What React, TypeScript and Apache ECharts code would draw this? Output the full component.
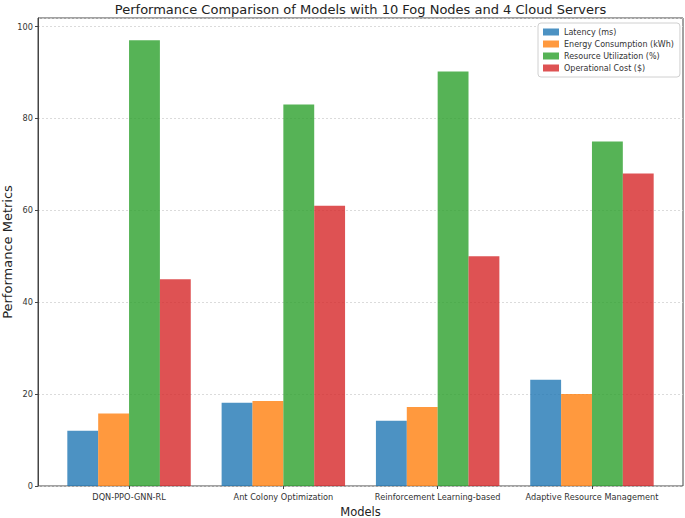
import React, { useEffect, useRef } from "react";
import * as echarts from "echarts";

const categories = [
  "DQN-PPO-GNN-RL",
  "Ant Colony Optimization",
  "Reinforcement Learning-based",
  "Adaptive Resource Management",
];
const seriesNames = [
  "Latency (ms)",
  "Energy Consumption (kWh)",
  "Resource Utilization (%)",
  "Operational Cost ($)",
];
const latency = [12, 18.1, 14.2, 23.1];
const energy = [15.8, 18.5, 17.2, 20];
const utilization = [97, 83, 90.2, 75];
const cost = [45, 61, 50, 68];
const yTicks = [0, 20, 40, 60, 80, 100];

const colors = [
  "rgba(31,119,180,0.8)",
  "rgba(255,127,14,0.8)",
  "rgba(44,160,44,0.8)",
  "rgba(214,39,40,0.8)",
];

const FONT = "DejaVu Sans";
const Y_MAX = 101.85;

export default function App() {
  const ref = useRef<HTMLDivElement>(null);
  useEffect(() => {
    if (!ref.current) return;
    const chart = echarts.init(ref.current, undefined, { renderer: "svg" });
    const all = [latency, energy, utilization, cost];
    const frameL = 38;
    const frameR = 683;
    const band = (frameR - frameL) / 4.18;
    const inset = band * 0.09;
    chart.setOption({
      animation: false,
      textStyle: { fontFamily: FONT },
      graphic: [
        {
          type: "text",
          x: (frameL + frameR) / 2,
          y: 9,
          style: {
            text: "Performance Comparison of Models with 10 Fog Nodes and 4 Cloud Servers",
            textAlign: "center",
            textVerticalAlign: "middle",
            font: `13px '${FONT}'`,
            fill: "#222",
          },
        },
      ],
      grid: [
        {
          left: frameL,
          right: 685 - frameR,
          top: 18,
          bottom: 32,
          show: true,
          borderColor: "#444",
          borderWidth: 1,
          backgroundColor: "transparent",
          containLabel: false,
          outerBoundsMode: "none",
        },
        {
          left: frameL + inset,
          right: 685 - frameR + inset,
          top: 18,
          bottom: 32,
          containLabel: false,
          outerBoundsMode: "none",
        },
      ],
      legend: {
        orient: "vertical",
        left: 538,
        top: 23,
        padding: [5, 6, 5, 5],
        itemWidth: 16,
        itemHeight: 7,
        itemGap: 4,
        icon: "rect",
        backgroundColor: "#fff",
        borderColor: "#d0d0d0",
        borderWidth: 1,
        borderRadius: 3,
        textStyle: { fontFamily: FONT, fontSize: 8, color: "#333" },
        data: seriesNames,
      },
      xAxis: [
        {
          type: "value",
          gridIndex: 0,
          show: false,
          min: 0,
          max: 1,
        },
        {
          type: "category",
          gridIndex: 1,
          data: categories,
          name: "Models",
          nameLocation: "middle",
          nameGap: 19,
          nameTextStyle: { fontFamily: FONT, fontSize: 11.5, color: "#222" },
          axisLine: { show: false },
          axisTick: { show: true, length: 3, alignWithLabel: true, lineStyle: { color: "#444" } },
          axisLabel: {
            interval: 0,
            fontFamily: FONT,
            fontSize: 8.2,
            color: "#333",
            margin: 7,
          },
          splitLine: { show: false },
        },
      ],
      yAxis: [
        {
          type: "value",
          gridIndex: 0,
          min: 0,
          max: Y_MAX,
          interval: 20,
          name: "Performance Metrics",
          nameLocation: "middle",
          nameGap: 24,
          nameMoveOverlap: false,
          nameTextStyle: { fontFamily: FONT, fontSize: 13, color: "#222" },
          axisLine: { show: true, onZero: false, lineStyle: { color: "#444" } },
          axisTick: { show: true, length: 3, lineStyle: { color: "#444" } },
          axisLabel: {
            fontFamily: FONT,
            fontSize: 8.2,
            color: "#333",
            margin: 5,
            showMaxLabel: false,
            formatter: (v: number) => (yTicks.includes(v) ? String(v) : ""),
          },
          splitLine: { show: true, lineStyle: { color: "#d2d2d2", type: [2, 2], width: 0.8 } },
        },
        {
          type: "value",
          gridIndex: 1,
          min: 0,
          max: Y_MAX,
          show: false,
          splitLine: { show: false },
        },
      ],
      series: all.map((vals, si) => ({
        name: seriesNames[si],
        type: "bar",
        xAxisIndex: 1,
        yAxisIndex: 1,
        barWidth: band * 0.2,
        barGap: "0%",
        data: vals,
        itemStyle: { color: colors[si] },
      })),
    });
    return () => chart.dispose();
  }, []);
  return (
    <div
      ref={ref}
      style={{ position: "absolute", left: 0, top: 0, width: 685, height: 518, background: "#fff" }}
    />
  );
}
